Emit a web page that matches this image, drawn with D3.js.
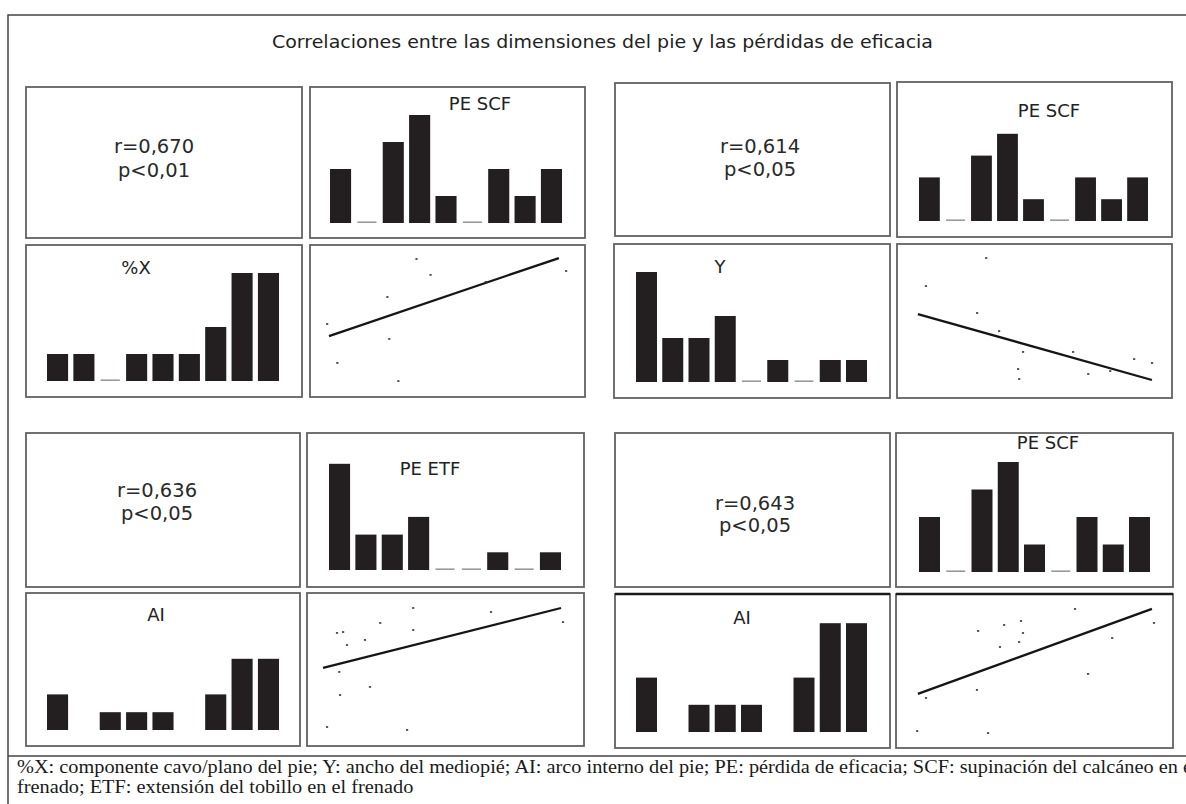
<!DOCTYPE html>
<html><head><meta charset="utf-8">
<script src="https://cdn.jsdelivr.net/npm/d3@7"></script>
<style>html,body{margin:0;padding:0;background:#fff;overflow:hidden}</style>
</head><body><svg id="c" width="1186" height="804"></svg>
<script>
// ---------- DATA ----------
const titleText = "Correlaciones entre las dimensiones del pie y las pérdidas de eficacia";
const bins = [1,2,3,4,5,6,7,8,9];
const peScf = [2,0,3,4,1,0,2,1,2];
const peEtf = [6,2,2,3,0,0,1,0,1];
const pctX  = [1,1,0,1,1,1,2,4,4];
const anchoY = [5,2,2,3,0,1,0,1,1];
const arcoAI = [2,0,1,1,1,0,2,4,4];
const histLabels = ["PE SCF","%X","PE SCF","Y","PE ETF","PE  SCF","AI","AI"];
const corrR = ["r=0,670","r=0,614","r=0,636","r=0,643"];
const corrP = ["p<0,01","p<0,05","p<0,05","p<0,05"];
// scatter points (normalised 0-100 units) and fitted line endpoints
const scatterX_PctX = [[38.7,90.8],[43.8,80.3],[28.1,65.8],[6.2,48.0],[28.8,38.2],[9.9,22.4],[32.1,10.5],[93.1,82.9],[63.9,75.7]];
const lineX_PctX = [[6.9,40.1],[90.5,91.4]];
const scatterY = [[32.4,90.9],[10.5,72.7],[29.1,55.2],[37.1,43.5],[45.8,29.9],[64.0,29.9],[44.0,18.8],[44.4,12.3],[69.5,15.6],[77.5,17.5],[86.2,25.3],[92.7,22.7]];
const lineY = [[7.6,54.5],[92.7,11.7]];
const scatterAI_ETF = [[38.3,90.2],[66.4,87.6],[92.4,81.0],[26.4,80.4],[38.3,75.8],[10.8,73.9],[13.0,74.5],[20.9,69.3],[14.4,66.0],[11.6,48.4],[22.7,38.6],[11.9,33.3],[7.2,12.4],[36.1,10.5]];
const lineAI_ETF = [[5.8,51.0],[91.7,90.2]];
const scatterAI_SCF = [[64.6,90.3],[93.1,81.2],[45.1,82.5],[39.0,79.9],[29.6,76.0],[45.8,74.7],[44.4,68.8],[78.0,71.4],[37.5,65.6],[69.3,48.1],[29.2,37.7],[10.8,32.5],[7.6,11.0],[33.2,9.7]];
const lineAI_SCF = [[7.9,35.1],[92.4,90.3]];
const footLine1 = "%X: componente cavo/plano del pie; Y: ancho del mediopié; AI: arco interno del pie; PE: pérdida de eficacia; SCF: supinación del calcáneo en el";
const footLine2 = "frenado; ETF: extensión del tobillo en el frenado";

// ---------- LAYOUT ----------
const svg = d3.select("#c");
const sans = "'DejaVu Sans', sans-serif";
const boxStroke = "#626262";
const barFill = "#231f20";

svg.append("rect").attr("width",1186).attr("height",804).attr("fill","#fff");
// outer frame
svg.append("path").attr("d","M8,804 L8,15 L1200,15").attr("fill","none").attr("stroke","#444").attr("stroke-width",1.5);
svg.append("line").attr("x1",8).attr("x2",1200).attr("y1",756).attr("y2",756).attr("stroke","#444").attr("stroke-width",1.5);

// title
const t = svg.append("text").attr("x",272).attr("y",48).attr("font-family",sans).attr("font-size",18)
  .attr("fill","#222").text(titleText);
t.attr("textLength",661).attr("lengthAdjust","spacingAndGlyphs");

function box(b, thickTop){
  svg.append("rect").attr("x",b[0]).attr("y",b[1]).attr("width",b[2]).attr("height",b[3])
    .attr("fill","none").attr("stroke",boxStroke).attr("stroke-width",1.8);
  if(thickTop){
    svg.append("line").attr("x1",b[0]).attr("x2",b[0]+b[2]).attr("y1",b[1]).attr("y2",b[1])
      .attr("stroke","#1a1a1a").attr("stroke-width",2.4);
  }
}

// text panels
const textPanels = [
  {box:[26,87,276,151], cx:154, y1:153, y2:177},
  {box:[615,83,275,153], cx:760, y1:153, y2:176},
  {box:[26,433,274,154], cx:157, y1:497, y2:520},
  {box:[615,433,275,154], cx:755, y1:510, y2:532}
];
textPanels.forEach((p,i)=>{
  box(p.box);
  const g = svg.append("g").attr("font-family",sans).attr("font-size",19.5).attr("fill","#2a2a2a").attr("text-anchor","middle");
  g.append("text").attr("x",p.cx).attr("y",p.y1).text(corrR[i]);
  g.append("text").attr("x",p.cx).attr("y",p.y2).text(corrP[i]);
});

// histogram panels
const histPanels = [
  {box:[310,87,275,151], bars:[330,562], base:223, unit:27,   lx:480, ly:110, values:peScf,  empty:true},
  {box:[26,245,276,152], bars:[47,279],  base:381, unit:27,   lx:136, ly:274, values:pctX,   empty:true},
  {box:[897,82,275,155], bars:[919,1148],base:221, unit:21.8, lx:1049,ly:117, values:peScf,  empty:true},
  {box:[614,244,276,154],bars:[636,867], base:382, unit:22,   lx:720, ly:273, values:anchoY, empty:true},
  {box:[307,433,277,154],bars:[329,561], base:570, unit:17.7, lx:430, ly:475, values:peEtf,  empty:true},
  {box:[896,433,277,154],bars:[919,1150],base:572, unit:27.5, lx:1048,ly:449, values:peScf,  empty:true},
  {box:[26,593,274,153], bars:[47,279],  base:730, unit:17.8, lx:156, ly:621, values:arcoAI, empty:false},
  {box:[615,594,275,154],bars:[636,867], base:732, unit:27.2, lx:742, ly:624, values:arcoAI, empty:false, thick:true}
];
histPanels.forEach((p,i)=>{
  box(p.box, p.thick);
  const x = d3.scaleBand().domain(bins).range(p.bars).paddingInner(0.2).paddingOuter(0);
  const y = d3.scaleLinear().domain([0,1]).range([p.base, p.base - p.unit]);
  const data = bins.map((b,j)=>({b, v:p.values[j]}));
  svg.append("g").selectAll("rect").data(data.filter(d=>d.v>0)).join("rect")
    .attr("x",d=>x(d.b)).attr("width",x.bandwidth())
    .attr("y",d=>y(d.v)).attr("height",d=>y(0)-y(d.v)).attr("fill",barFill);
  if(p.empty){
    svg.append("g").selectAll("rect").data(data.filter(d=>d.v===0)).join("rect")
      .attr("x",d=>x(d.b)+1).attr("width",x.bandwidth()-2)
      .attr("y",y(0)-1.6).attr("height",1.6).attr("fill","#9a9a9a");
  }
  svg.append("text").attr("x",p.lx).attr("y",p.ly).attr("text-anchor","middle")
    .attr("font-family",sans).attr("font-size",18).attr("fill","#222").text(histLabels[i]);
});

// scatter panels
const scatterPanels = [
  {box:[310,245,275,152], pts:scatterX_PctX, line:lineX_PctX},
  {box:[897,244,275,154], pts:scatterY, line:lineY},
  {box:[307,593,277,153], pts:scatterAI_ETF, line:lineAI_ETF},
  {box:[896,594,277,154], pts:scatterAI_SCF, line:lineAI_SCF, thick:true}
];
scatterPanels.forEach(p=>{
  box(p.box, p.thick);
  const b = p.box;
  const x = d3.scaleLinear().domain([0,100]).range([b[0], b[0]+b[2]]);
  const y = d3.scaleLinear().domain([0,100]).range([b[1]+b[3], b[1]]);
  svg.append("path").datum(p.line).attr("d", d3.line().x(d=>x(d[0])).y(d=>y(d[1])))
    .attr("stroke","#151515").attr("stroke-width",2.3).attr("fill","none");
  svg.append("g").selectAll("rect").data(p.pts).join("rect")
    .attr("x",d=>x(d[0])-1).attr("y",d=>y(d[1])-0.8).attr("width",2.2).attr("height",1.6)
    .attr("fill","#333");
});

// footer
const serif = "'Liberation Serif', 'Times New Roman', serif";
const tmp = svg.append("text").attr("font-family",serif).attr("font-size",18).text("%X: componente cavo/plano del pie; Y: ancho del medio");
const k = 463 / tmp.node().getComputedTextLength();
tmp.remove();
[[footLine1,773],[footLine2,793]].forEach(([s,yy])=>{
  const el = svg.append("text").attr("x",17).attr("y",yy).attr("font-family",serif).attr("font-size",18).attr("fill","#1a1a1a").text(s);
  const L = el.node().getComputedTextLength();
  el.attr("textLength", L*k).attr("lengthAdjust","spacingAndGlyphs");
});
</script>
</body></html>
